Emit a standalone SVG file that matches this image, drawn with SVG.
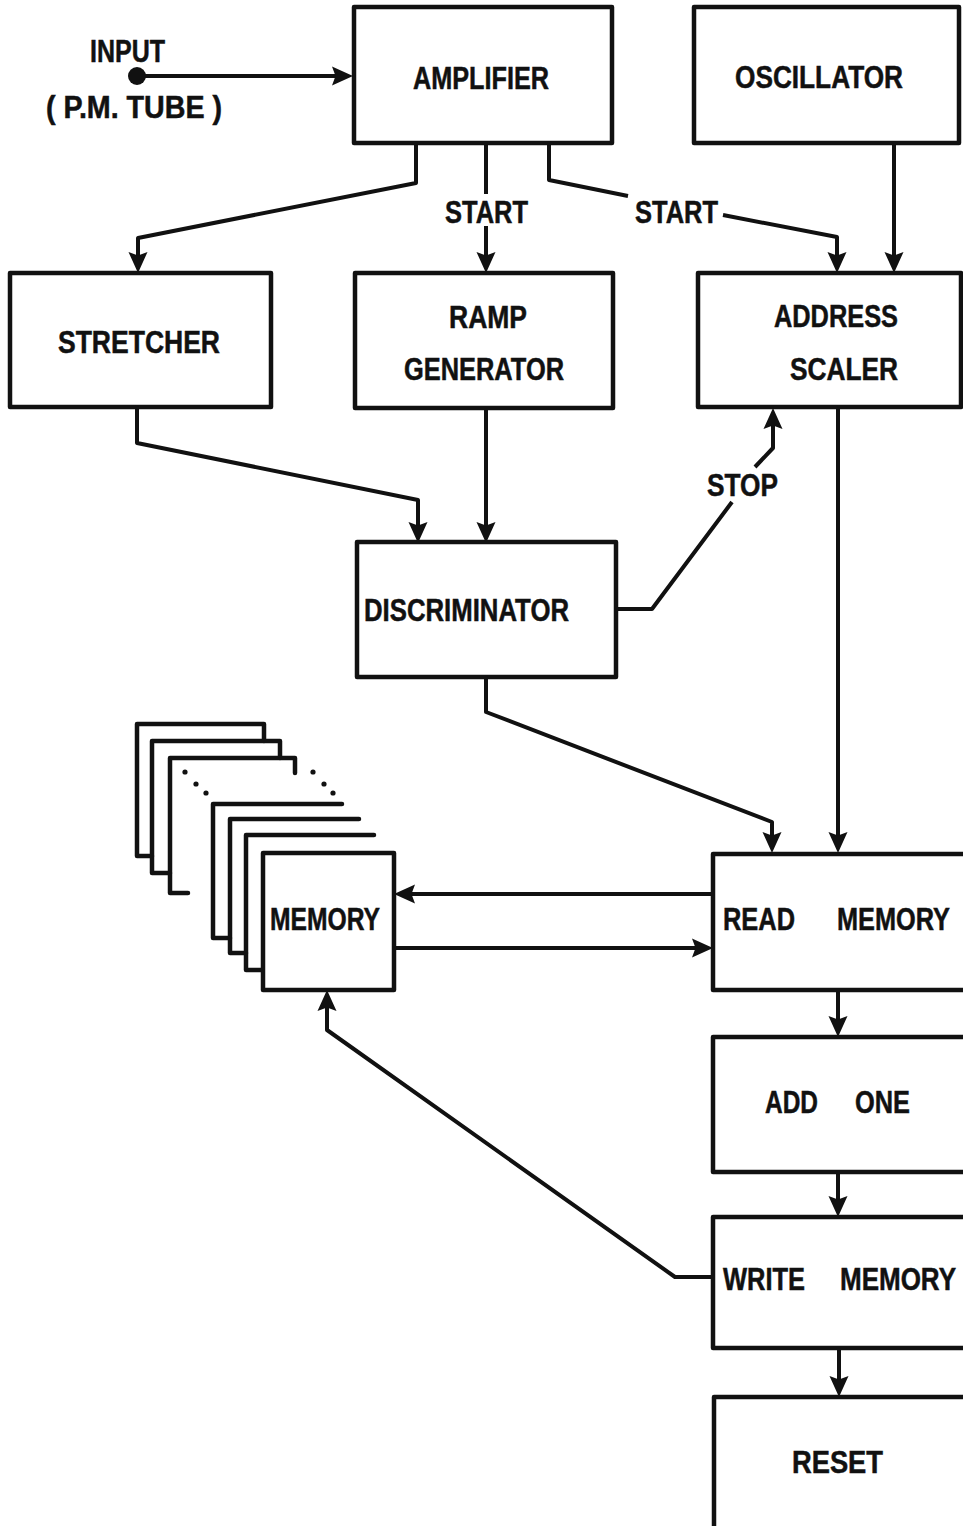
<svg xmlns="http://www.w3.org/2000/svg" width="963" height="1526" viewBox="0 0 963 1526">
  <style>
    .box { fill: #fff; stroke: #111; stroke-width: 4.5; stroke-linejoin: round; }
    .wire { fill: none; stroke: #111; stroke-width: 4; stroke-linejoin: round; stroke-linecap: butt; }
    .arrow { marker-end: url(#head); }
    .sheet { fill: none; stroke: #111; stroke-width: 4.5; stroke-linejoin: round; stroke-linecap: round; }
    text { font-family: "Liberation Sans", Arial, sans-serif; font-weight: bold; font-size: 31px; fill: #111; stroke: #111; stroke-width: 0.5; }
    .dot { fill: #111; }
  </style>
  <defs>
    <marker id="head" markerUnits="userSpaceOnUse" markerWidth="22" markerHeight="22" viewBox="0 0 22 22" refX="9" refY="11" orient="auto">
      <path d="M0,1.5 L21,11 L0,20.5 L3.5,11 Z" fill="#111"/>
    </marker>
  </defs>
  <rect width="963" height="1526" fill="#fff"/>

  <!-- signal input -->
  <g id="input">
    <circle cx="137" cy="76" r="9" class="dot"/>
    <text x="90" y="62" textLength="75" lengthAdjust="spacingAndGlyphs" font-size="27">INPUT</text>
    <text x="46" y="118" textLength="176" lengthAdjust="spacingAndGlyphs" font-size="28">( P.M. TUBE )</text>
  </g>

  <!-- connectors -->
  <g id="connectors">
    <path class="wire arrow" d="M137,76 H341"/>
    <path class="wire arrow" d="M416,143 V183 L138,238 V261"/>
    <path class="wire" d="M486,143 V194"/>
    <path class="wire arrow" d="M486,226 V261"/>
    <path class="wire" d="M549,143 V180 L628,196"/>
    <path class="wire arrow" d="M723,215 L837,237 V261"/>
    <path class="wire arrow" d="M894,143 V261"/>
    <path class="wire arrow" d="M137,407 V443 L418,500 V531"/>
    <path class="wire arrow" d="M486,408 V531"/>
    <path class="wire" d="M616,609 H652 L732,502"/>
    <path class="wire arrow" d="M755,467 L773,448 V420"/>
    <path class="wire arrow" d="M486,677 V712 L772,822 V841"/>
    <path class="wire arrow" d="M838,407 V841"/>
    <path class="wire arrow" d="M713,894 H406"/>
    <path class="wire arrow" d="M394,948 H701"/>
    <path class="wire arrow" d="M838,990 V1025"/>
    <path class="wire arrow" d="M838,1172 V1205"/>
    <path class="wire arrow" d="M713,1277 H675 L327,1030 V1002"/>
    <path class="wire arrow" d="M839,1348 V1385"/>
  </g>

  <g id="amplifier">
    <rect class="box" x="354" y="7" width="258" height="136"/>
    <text x="413" y="89" textLength="136" lengthAdjust="spacingAndGlyphs">AMPLIFIER</text>
  </g>

  <g id="oscillator">
    <rect class="box" x="694" y="7" width="265" height="136"/>
    <text x="735" y="88" textLength="168" lengthAdjust="spacingAndGlyphs">OSCILLATOR</text>
  </g>

  <g id="start-labels">
    <text x="445" y="223" textLength="83" lengthAdjust="spacingAndGlyphs">START</text>
    <text x="635" y="223" textLength="83" lengthAdjust="spacingAndGlyphs">START</text>
    <text x="707" y="496" textLength="71" lengthAdjust="spacingAndGlyphs">STOP</text>
  </g>

  <g id="stretcher">
    <rect class="box" x="10" y="273" width="261" height="134"/>
    <text x="58" y="353" textLength="162" lengthAdjust="spacingAndGlyphs">STRETCHER</text>
  </g>

  <g id="ramp-generator">
    <rect class="box" x="355" y="273" width="258" height="135"/>
    <text x="449" y="328" textLength="78" lengthAdjust="spacingAndGlyphs">RAMP</text>
    <text x="404" y="380" textLength="160" lengthAdjust="spacingAndGlyphs">GENERATOR</text>
  </g>

  <g id="address-scaler">
    <rect class="box" x="698" y="273" width="263" height="134"/>
    <text x="774" y="327" textLength="124" lengthAdjust="spacingAndGlyphs">ADDRESS</text>
    <text x="790" y="380" textLength="108" lengthAdjust="spacingAndGlyphs">SCALER</text>
  </g>

  <g id="discriminator">
    <rect class="box" x="357" y="542" width="259" height="135"/>
    <text x="364" y="621" textLength="205" lengthAdjust="spacingAndGlyphs">DISCRIMINATOR</text>
  </g>

  <!-- stacked memory planes -->
  <g id="memory">
    <path class="sheet" d="M264,724 V741 M264,724 H137 V856 H152"/>
    <path class="sheet" d="M280,741 V758 M280,741 H152 V873 H170"/>
    <path class="sheet" d="M295,758 V773 M295,758 H170 V893 H188"/>
    <circle class="dot" cx="185" cy="772" r="2.6"/>
    <circle class="dot" cx="196" cy="784" r="2.6"/>
    <circle class="dot" cx="206" cy="793" r="2.6"/>
    <circle class="dot" cx="313" cy="772" r="2.6"/>
    <circle class="dot" cx="324" cy="784" r="2.6"/>
    <circle class="dot" cx="333" cy="793" r="2.6"/>
    <path class="sheet" d="M342,804 H213 V938 H230"/>
    <path class="sheet" d="M359,819 H230 V953 H246"/>
    <path class="sheet" d="M374,835 H246 V970 H263"/>
    <rect class="box" x="263" y="853" width="131" height="137"/>
    <text x="270" y="930" textLength="110" lengthAdjust="spacingAndGlyphs">MEMORY</text>
  </g>

  <g id="read-memory">
    <rect class="box" x="713" y="854" width="256" height="136"/>
    <text x="723" y="930" textLength="72" lengthAdjust="spacingAndGlyphs">READ</text>
    <text x="837" y="930" textLength="113" lengthAdjust="spacingAndGlyphs">MEMORY</text>
  </g>

  <g id="add-one">
    <rect class="box" x="713" y="1037" width="256" height="135"/>
    <text x="765" y="1113" textLength="53" lengthAdjust="spacingAndGlyphs">ADD</text>
    <text x="855" y="1113" textLength="55" lengthAdjust="spacingAndGlyphs">ONE</text>
  </g>

  <g id="write-memory">
    <rect class="box" x="713" y="1217" width="256" height="131"/>
    <text x="723" y="1290" textLength="82" lengthAdjust="spacingAndGlyphs">WRITE</text>
    <text x="840" y="1290" textLength="116" lengthAdjust="spacingAndGlyphs">MEMORY</text>
  </g>

  <g id="reset">
    <rect class="box" x="714" y="1397" width="256" height="150"/>
    <text x="792" y="1473" textLength="91" lengthAdjust="spacingAndGlyphs">RESET</text>
  </g>
</svg>
